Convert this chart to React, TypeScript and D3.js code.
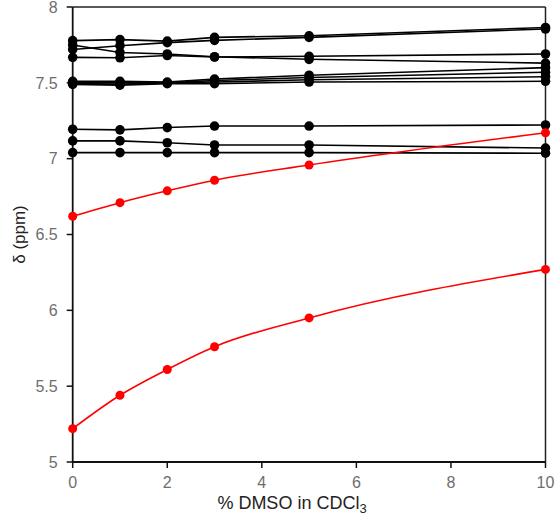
import React from "react";
import * as d3 from "d3";

const xValues = [0, 1, 2, 3, 5, 10];
const blackSeries: number[][] = [
  [7.778, 7.785, 7.775, 7.8, 7.81, 7.865],
  [7.72, 7.745, 7.765, 7.78, 7.8, 7.855],
  [7.75, 7.7, 7.69, 7.672, 7.655, 7.63],
  [7.668, 7.665, 7.68, 7.67, 7.675, 7.69],
  [7.51, 7.51, 7.505, 7.525, 7.55, 7.6],
  [7.5, 7.5, 7.5, 7.515, 7.535, 7.57],
  [7.495, 7.49, 7.5, 7.505, 7.52, 7.54],
  [7.49, 7.485, 7.495, 7.495, 7.505, 7.51],
  [7.194, 7.19, 7.205, 7.215, 7.215, 7.222],
  [7.117, 7.117, 7.105, 7.09, 7.09, 7.07],
  [7.04, 7.04, 7.04, 7.04, 7.04, 7.036],
];
const redSeries: number[][] = [
  [6.62, 6.71, 6.788, 6.858, 6.958, 7.171],
  [5.22, 5.44, 5.61, 5.76, 5.95, 6.27],
];
const xTicks = [0, 2, 4, 6, 8, 10];
const yTicks = [5, 5.5, 6, 6.5, 7, 7.5, 8];

const W = 555;
const H = 523;
const left = 72.7;
const right = 545.5;
const top = 7;
const bottom = 462;

export default function App() {
  const x = d3.scaleLinear().domain([0, 10]).range([left, right]);
  const y = d3.scaleLinear().domain([5, 8]).range([bottom, top]);
  const lineLinear = d3
    .line<number>()
    .x((_, i) => x(xValues[i]))
    .y((d) => y(d));
  const lineSmooth = d3
    .line<number>()
    .x((_, i) => x(xValues[i]))
    .y((d) => y(d))
    .curve(d3.curveMonotoneX);
  const font = "Liberation Sans, Arial, sans-serif";
  return (
    <svg
      width={W}
      height={H}
      style={{ position: "absolute", left: 0, top: 0, background: "#fff" }}
    >
      <rect x={0} y={0} width={W} height={H} fill="#fff" />
      <line x1={left} x2={right} y1={top} y2={top} stroke="#222" strokeWidth={1.5} />
      <line x1={right} x2={right} y1={top} y2={bottom} stroke="#222" strokeWidth={1.5} />
      <line x1={left} x2={right} y1={bottom} y2={bottom} stroke="#111" strokeWidth={1.8} />
      <line x1={left} x2={left} y1={top} y2={bottom} stroke="#111" strokeWidth={1.8} />
      {yTicks.map((t) => (
        <g key={"y" + t}>
          <line x1={left - 6} x2={left} y1={y(t)} y2={y(t)} stroke="#111" strokeWidth={1.5} />
          <text
            x={left - 15}
            y={y(t)}
            dy="0.36em"
            textAnchor="end"
            fontSize={16}
            fontFamily={font}
            fill="#6e6e6e"
          >
            {t}
          </text>
        </g>
      ))}
      {xTicks.map((t) => (
        <g key={"x" + t}>
          <line x1={x(t)} x2={x(t)} y1={bottom} y2={bottom + 6} stroke="#111" strokeWidth={1.5} />
          <text
            x={x(t)}
            y={482.5}
            dy="0.36em"
            textAnchor="middle"
            fontSize={16}
            fontFamily={font}
            fill="#6e6e6e"
          >
            {t}
          </text>
        </g>
      ))}
      {blackSeries.map((s, k) => (
        <g key={"b" + k}>
          <path d={lineLinear(s) || ""} fill="none" stroke="#000" strokeWidth={1.6} />
          {s.map((v, i) => (
            <circle key={i} cx={x(xValues[i])} cy={y(v)} r={4.8} fill="#000" />
          ))}
        </g>
      ))}
      {redSeries.map((s, k) => (
        <g key={"r" + k}>
          <path d={lineSmooth(s) || ""} fill="none" stroke="#ff0000" strokeWidth={1.6} />
          {s.map((v, i) => (
            <circle key={i} cx={x(xValues[i])} cy={y(v)} r={4.5} fill="#ff0000" />
          ))}
        </g>
      ))}
      <text
        x={292}
        y={509}
        textAnchor="middle"
        fontSize={18}
        fontFamily={font}
        fill="#222"
      >
        % DMSO in CDCl
        <tspan fontSize={13} dy={4}>3</tspan>
      </text>
      <text
        transform={`translate(25, ${(top + bottom) / 2}) rotate(-90)`}
        textAnchor="middle"
        fontSize={17}
        fontFamily={font}
        fill="#222"
      >
        δ (ppm)
      </text>
    </svg>
  );
}
